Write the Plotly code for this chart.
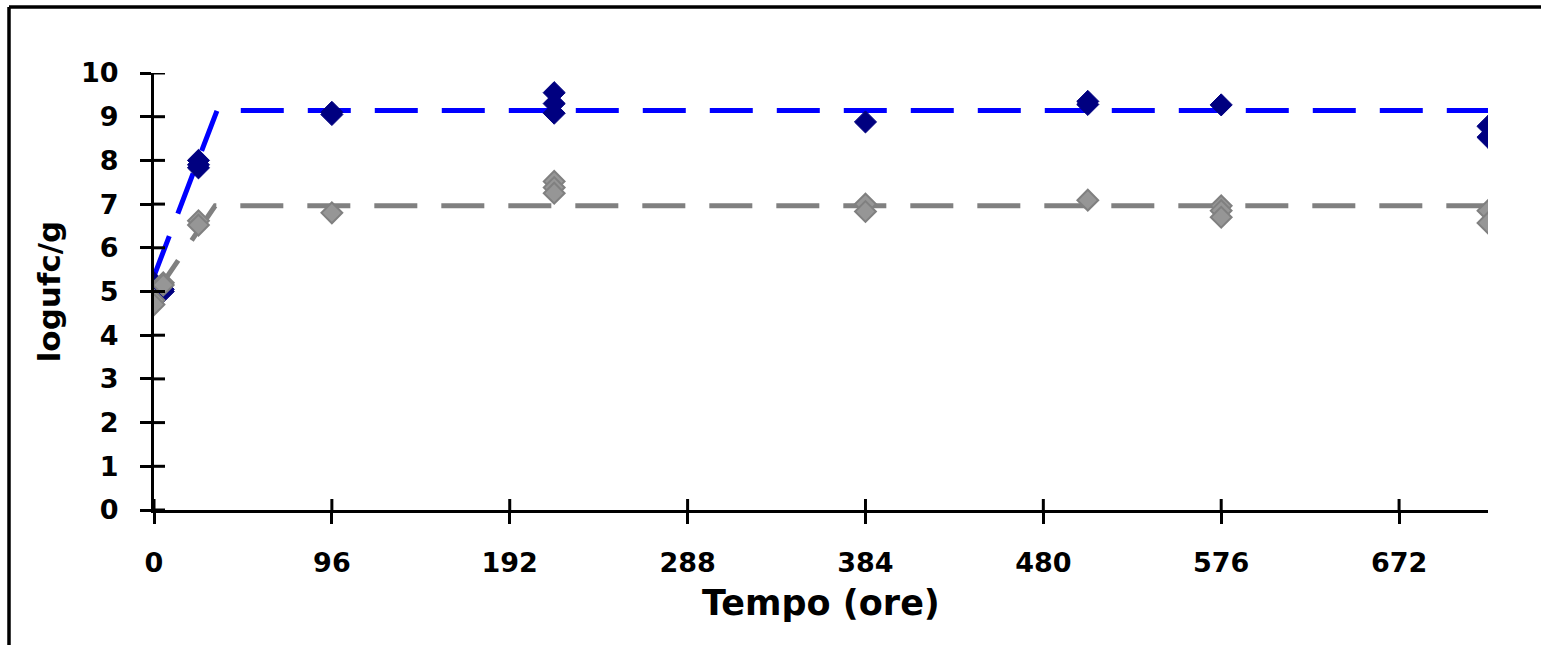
import plotly.graph_objects as go

# Observed counts (log ufc/g) over storage time (hours)
t_blue = [0, 5, 5, 24, 24, 24, 96, 96, 216, 216, 216, 384, 504, 504, 576, 720, 720]
y_blue = [5.2, 5.05, 5.0, 8.0, 7.9, 7.83, 9.05, 9.1, 9.55, 9.3, 9.08, 8.88, 9.35, 9.28, 9.27, 8.78, 8.53]

t_gray = [0, 0, 5, 5, 24, 24, 96, 216, 216, 216, 384, 384, 504, 576, 576, 576, 720, 720]
y_gray = [4.8, 4.7, 5.2, 5.15, 6.62, 6.52, 6.8, 7.52, 7.38, 7.25, 7.0, 6.83, 7.09, 6.96, 6.85, 6.7, 6.85, 6.57]

# Fitted growth models (growth phase then stationary plateau)
fit_blue_t = [0, 34, 720]
fit_blue_y = [5.35, 9.14, 9.14]
fit_gray_t = [0, 33, 720]
fit_gray_y = [4.9, 6.96, 6.96]

x_ticks = [0, 96, 192, 288, 384, 480, 576, 672]
y_ticks = list(range(0, 11))

FONT = "DejaVu Sans"

fig = go.Figure()

fig.add_trace(go.Scatter(x=fit_gray_t, y=fit_gray_y, mode="lines",
                         line=dict(color="#808080", width=5, dash="43px,24px"),
                         hoverinfo="skip"))
fig.add_trace(go.Scatter(x=fit_blue_t, y=fit_blue_y, mode="lines",
                         line=dict(color="#0000FF", width=5, dash="43px,24px"),
                         hoverinfo="skip"))
fig.add_trace(go.Scatter(x=t_blue, y=y_blue, mode="markers",
                         marker=dict(symbol="diamond", size=17, color="#000080",
                                     line=dict(color="#000080", width=1))))
fig.add_trace(go.Scatter(x=t_gray, y=y_gray, mode="markers",
                         marker=dict(symbol="diamond", size=16, color="#969696",
                                     line=dict(color="#808080", width=2))))

axis_common = dict(showgrid=False, zeroline=False, showline=True,
                   linecolor="black", linewidth=3, tickcolor="black",
                   tickwidth=3, ticklen=11)

fig.update_layout(
    width=1541, height=645,
    margin=dict(l=154, r=53, t=73, b=135),
    paper_bgcolor="white", plot_bgcolor="white",
    showlegend=False,
    font=dict(family=FONT, color="black"),
    xaxis=dict(range=[0, 720], tickvals=x_ticks, ticks="outside",
               tickfont=dict(size=27, family=FONT, weight="bold"),
               ticklabelstandoff=16,
               title=dict(text="<b>Tempo (ore)</b>", font=dict(size=35), standoff=14),
               **axis_common),
    yaxis=dict(range=[0, 10], tickvals=y_ticks, ticks="outside",
               tickfont=dict(size=27, family=FONT, weight="bold"),
               ticklabelstandoff=16,
               title=dict(text="<b>logufc/g</b>", font=dict(size=31), standoff=12),
               **axis_common),
)

# inner halves of the cross tick marks, drawn along each axis
tick_in = dict(color="black", width=3)
for xv in x_ticks:
    fig.add_shape(type="line", xref="x", yref="paper", x0=xv, x1=xv,
                  y0=0, y1=11 / 437, line=tick_in)
for yv in y_ticks:
    fig.add_shape(type="line", xref="paper", yref="y", x0=0, x1=11 / 1334,
                  y0=yv, y1=yv, line=tick_in)

# outer chart frame: top and left edges (the rest runs off the page)
pw, ph = 1334, 437
def px_x(p):
    return (p - 154) / pw
def px_y(p):
    return (510 - p) / ph
frame = dict(color="black", width=3.5)
# blank strip along the right page edge below the frame's top edge
fig.add_shape(type="rect", xref="paper", yref="paper",
              x0=px_x(1520), x1=px_x(1545), y0=px_y(120), y1=px_y(10),
              line=dict(width=0), fillcolor="white", layer="above")
fig.add_shape(type="line", xref="paper", yref="paper",
              x0=px_x(9), x1=px_x(1541), y0=px_y(7), y1=px_y(7), line=frame)
fig.add_shape(type="line", xref="paper", yref="paper",
              x0=px_x(9), x1=px_x(9), y0=px_y(7), y1=px_y(645), line=frame)

fig.write_html("out.html", config={"displayModeBar": False})
